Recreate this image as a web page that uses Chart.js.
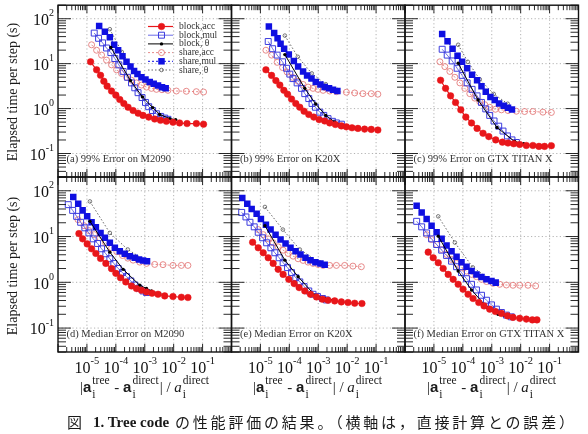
<!DOCTYPE html>
<html>
<head>
<meta charset="utf-8">
<script src="https://cdn.jsdelivr.net/npm/chart.js@4.4.1/dist/chart.umd.min.js"></script>
<style>
  body { margin: 0; background: #fff; }
  #page { position: relative; width: 588px; height: 434px; overflow: hidden; font-family: "Liberation Serif", serif; color: #1a1a1a; }
  #page canvas { position: absolute; left: 0; top: 0; }
  .ytitle { position: absolute; width: 180px; height: 18px; line-height: 18px; text-align: center; font-size: 14px; transform: rotate(-90deg); white-space: nowrap; }
  .xtitle { position: absolute; top: 378px; white-space: nowrap; font-size: 15px; line-height: 18px; transform: translateX(-50%); }
  .xtitle b { font-family: "Liberation Sans", sans-serif; font-weight: bold; }
  .ss { display: inline-flex; flex-direction: column; vertical-align: middle; font-size: 11.5px; line-height: 11px; margin: 0 1px; }
  .ss .up { position: relative; top: -3px; }
  .cap { position: absolute; top: 413px; font-size: 15px; line-height: 18px; white-space: nowrap; }
  .jp { font-family: "Noto Sans CJK JP", sans-serif; letter-spacing: 2.8px; }
</style>
</head>
<body>
<div id="page">
  <canvas id="pa" width="588" height="434"></canvas>
  <canvas id="pb" width="588" height="434"></canvas>
  <canvas id="pc" width="588" height="434"></canvas>
  <canvas id="pd" width="588" height="434"></canvas>
  <canvas id="pe" width="588" height="434"></canvas>
  <canvas id="pf" width="588" height="434"></canvas>

  <div class="ytitle" style="left:-77px; top:83px">Elapsed time per step (s)</div>
  <div class="ytitle" style="left:-77px; top:257px">Elapsed time per step (s)</div>

  <div class="xtitle" style="left:145px">|<b>a</b><span class="ss"><span class="up">tree</span><span>i</span></span> - <b>a</b><span class="ss"><span class="up">direct</span><span>i</span></span>| / <i>a</i><span class="ss"><span class="up">direct</span><span>i</span></span></div>
  <div class="xtitle" style="left:318px">|<b>a</b><span class="ss"><span class="up">tree</span><span>i</span></span> - <b>a</b><span class="ss"><span class="up">direct</span><span>i</span></span>| / <i>a</i><span class="ss"><span class="up">direct</span><span>i</span></span></div>
  <div class="xtitle" style="left:492px">|<b>a</b><span class="ss"><span class="up">tree</span><span>i</span></span> - <b>a</b><span class="ss"><span class="up">direct</span><span>i</span></span>| / <i>a</i><span class="ss"><span class="up">direct</span><span>i</span></span></div>

  <div class="cap" style="left:67px"><span class="jp">図</span></div>
  <div class="cap" style="left:93px"><b>1. Tree code</b></div>
  <div class="cap" style="left:175px"><span class="jp">の性能評価の結果。（横軸は，直接計算との誤差）</span></div>
</div>

<script>
const W = 588, H = 434;

const seriesNames = ["block,acc", "block,mul", "block, \u03b8", "share,acc", "share,mul", "share, \u03b8"];
const panelLabels = [
  "(a) 99% Error on M2090", "(b) 99% Error on K20X", "(c) 99% Error on GTX TITAN X",
  "(d) Median Error on M2090", "(e) Median Error on K20X", "(f) Median Error on GTX TITAN X"
];
const xGrid = [1e-5, 1e-4, 1e-3, 1e-2, 1e-1];
const xExp = ["-5", "-4", "-3", "-2", "-1"];
const yGrid = [100, 10, 1, 0.1];
const yExp = ["2", "1", "0", "-1"];

// [error, seconds] pairs
// (a) 99% error, M2090
const aBlkAcc = [[1.34e-5,11.0],[2.16e-5,7.3],[2.96e-5,5.5],[3.85e-5,4.06],[5.0e-5,3.16],[7.1e-5,2.46],[1.0e-4,1.99],[1.37e-4,1.59],[1.89e-4,1.30],[2.65e-4,1.07],[3.95e-4,0.905],[5.9e-4,0.79],[8.7e-4,0.705],[1.37e-3,0.647],[2.2e-3,0.585],[3.5e-3,0.548],[5.6e-3,0.521],[9.5e-3,0.496],[1.6e-2,0.479],[2.9e-2,0.464],[6.1e-2,0.464],[0.108,0.449]];
const aBlkMul = [[1.79e-5,47.9],[2.53e-5,36.7],[3.48e-5,29.0],[4.77e-5,22.3],[6.73e-5,17.6],[9.25e-5,13.0],[1.27e-4,9.4],[1.79e-4,6.7],[2.53e-4,4.97],[3.48e-4,3.73],[4.52e-4,2.90],[5.87e-4,2.26],[8.07e-4,1.76],[1.06e-3,1.37],[1.37e-3,1.10],[1.85e-3,0.905],[2.53e-3,0.767],[3.56e-3,0.67],[4.9e-3,0.615],[6.35e-3,0.577]];
const aBlkTh = [[6.73e-5,22.9],[3.21e-4,4.2],[8.34e-4,1.82],[1.89e-3,1.05],[3.29e-3,0.741],[7.28e-3,0.597],[1.17e-2,0.568]];
const aShAcc = [[1.45e-5,26.3],[2.16e-5,19.9],[3.21e-5,15.5],[4.77e-5,12.0],[7.11e-5,9.4],[1.06e-4,7.3],[1.57e-4,6.07],[2.34e-4,4.97],[3.48e-4,4.27],[5.18e-4,3.73],[7.69e-4,3.33],[1.15e-3,3.01],[1.70e-3,2.82],[2.53e-3,2.68],[3.95e-3,2.63],[6.35e-3,2.55],[1.24e-2,2.46],[2.74e-2,2.43],[6.07e-2,2.38],[0.108,2.34]];
const aShMul = [[2.65e-5,69.3],[4.18e-5,51.4],[6.21e-5,38.6],[8.73e-5,26.3],[1.2e-4,19.9],[1.70e-4,14.7],[2.34e-4,11.0],[3.21e-4,8.6],[4.28e-4,6.9],[5.6e-4,5.85],[7.69e-4,4.96],[1.06e-3,4.42],[1.49e-3,3.92],[2.04e-3,3.55],[2.88e-3,3.27],[3.95e-3,3.0],[5.3e-3,2.82]];
const aShTh = [[6.2e-5,58.5],[1.61e-4,18.2],[4.18e-4,6.7],[1.27e-3,3.67],[4.5e-3,2.72]];

// (b) 99% error, K20X
const bBlkAcc = [[1.55e-5,7.3],[2.43e-5,5.48],[3.42e-5,4.2],[4.7e-5,3.33],[6.46e-5,2.55],[8.67e-5,2.09],[1.19e-4,1.63],[1.67e-4,1.30],[2.3e-4,1.07],[3.24e-4,0.873],[4.7e-4,0.741],[7.0e-4,0.647],[1.07e-3,0.568],[1.67e-3,0.530],[2.49e-3,0.479],[3.92e-3,0.443],[6.3e-3,0.412],[9.4e-3,0.392],[1.47e-2,0.373],[2.36e-2,0.362],[4.0e-2,0.349],[6.8e-2,0.344],[0.115,0.333]];
const bBlkMul = [[1.86e-5,31.1],[2.64e-5,21.5],[3.79e-5,15.5],[5.83e-5,11.0],[8.0e-5,7.9],[1.04e-4,5.85],[1.35e-4,4.65],[1.86e-4,3.73],[2.64e-4,2.82],[3.42e-4,2.15],[4.7e-4,1.67],[6.1e-4,1.30],[8.0e-4,1.07],[1.13e-3,0.83],[1.55e-3,0.705],[2.18e-3,0.597],[3.09e-3,0.521],[4.25e-3,0.479],[6.3e-3,0.449]];
const bBlkTh = [[7.0e-5,15.9],[3.42e-4,2.82],[8.2e-4,1.26],[1.82e-3,0.705],[3.7e-3,0.504],[6.3e-3,0.427],[1.29e-2,0.38]];
const bShAcc = [[1.55e-5,19.9],[2.43e-5,15.5],[3.79e-5,10.7],[5.83e-5,8.2],[8.4e-5,6.5],[1.29e-4,4.97],[2.01e-4,4.06],[2.99e-4,3.44],[4.45e-4,3.01],[6.6e-4,2.82],[9.8e-4,2.68],[1.47e-3,2.55],[2.49e-3,2.46],[4.25e-3,2.38],[9.4e-3,2.31],[1.82e-2,2.23],[3.5e-2,2.15],[6.8e-2,2.15],[0.115,2.09]];
const bShMul = [[1.96e-5,67],[2.99e-5,47.9],[3.92e-5,36.7],[4.98e-5,27.6],[6.6e-5,21.5],[9.6e-5,15.9],[1.43e-4,11.5],[2.01e-4,8.6],[2.99e-4,6.7],[4.11e-4,5.48],[5.83e-4,4.65],[8.2e-4,3.92],[1.19e-3,3.44],[1.67e-3,3.01],[2.36e-3,2.82],[3.24e-3,2.63],[4.59e-3,2.46]];
const bShTh = [[7.0e-5,42.1],[1.96e-4,14.2],[5.97e-4,6.07],[1.82e-3,3.49],[4.7e-3,2.59]];

// (c) 99% error, GTX TITAN X
const cBlkAcc = [[1.70e-5,4.27],[2.53e-5,2.82],[3.77e-5,1.92],[5.6e-5,1.37],[8.5e-5,0.937],[1.27e-4,0.647],[2.0e-4,0.479],[3.11e-4,0.362],[5.0e-4,0.282],[7.9e-4,0.238],[1.37e-3,0.201],[2.34e-3,0.179],[3.65e-3,0.171],[5.74e-3,0.165],[9.25e-3,0.159],[1.57e-2,0.151],[2.65e-2,0.151],[4.28e-2,0.144],[6.7e-2,0.144],[0.115,0.149]];
const cBlkMul = [[1.93e-5,20.9],[2.88e-5,15.5],[4.28e-5,11.5],[6.35e-5,7.9],[9.46e-5,5.48],[1.41e-4,3.73],[2.09e-4,2.68],[3.11e-4,1.92],[4.42e-4,1.37],[6.2e-4,0.984],[8.5e-4,0.705],[1.2e-3,0.530],[1.74e-3,0.406],[2.45e-3,0.316],[3.48e-3,0.246],[5.0e-3,0.201],[7.1e-3,0.176]];
const cBlkTh = [[6.9e-5,10.2],[3.37e-4,1.55],[1.52e-3,0.38],[6.2e-3,0.185],[1.27e-2,0.165]];
const cShAcc = [[1.61e-5,11.0],[2.39e-5,8.6],[3.56e-5,6.7],[5.3e-5,4.97],[7.9e-5,3.73],[1.17e-4,2.82],[1.74e-4,2.15],[2.59e-4,1.71],[3.85e-4,1.42],[5.74e-4,1.22],[8.5e-4,1.07],[1.34e-3,0.966],[2.16e-3,0.937],[3.65e-3,0.905],[7.1e-3,0.873],[1.37e-2,0.861],[2.65e-2,0.861],[5.87e-2,0.832],[0.115,0.819]];
const cShMul = [[1.93e-5,45.6],[2.96e-5,31.6],[4.42e-5,21.5],[6.56e-5,14.9],[9.46e-5,11.0],[1.41e-4,7.9],[2.09e-4,5.68],[3.11e-4,4.27],[4.42e-4,3.16],[6.2e-4,2.38],[9.0e-4,1.82],[1.27e-3,1.55],[1.79e-3,1.30],[2.59e-3,1.16],[3.65e-3,1.04],[5.0e-3,0.95]];
const cShTh = [[6.9e-5,26.3],[1.49e-4,11.0],[3.85e-4,4.49],[1.17e-3,2.12],[3.56e-3,1.28]];

// (d) median error, M2090
const dBlkAcc = [[5.3e-6,11.6],[7.1e-6,8.9],[1.02e-5,6.9],[1.45e-5,5.4],[2.04e-5,4.27],[2.96e-5,3.33],[4.52e-5,2.59],[7.1e-5,1.99],[1.0e-4,1.57],[1.45e-4,1.26],[2.21e-4,1.02],[3.48e-4,0.832],[5.18e-4,0.73],[7.69e-4,0.67],[1.15e-3,0.615],[1.79e-3,0.577],[2.88e-3,0.548],[4.9e-3,0.504],[9.46e-3,0.489],[1.85e-2,0.472],[3.11e-2,0.465]];
const dBlkMul = [[2.26e-6,49.7],[3.21e-6,37.3],[4.42e-6,27.6],[6.07e-6,20.5],[8.5e-6,15.5],[1.17e-5,12.0],[1.65e-5,8.9],[2.34e-5,7.05],[3.21e-5,5.4],[4.52e-5,4.2],[6.21e-5,3.27],[8.5e-5,2.59],[1.2e-4,2.01],[1.7e-4,1.63],[2.34e-4,1.33],[3.29e-4,1.07],[4.52e-4,0.873],[6.35e-4,0.741],[8.73e-4,0.647],[1.15e-3,0.597]];
const dBlkTh = [[1.27e-5,21.5],[6.21e-5,4.56],[1.79e-4,1.92],[6.73e-4,0.861],[1.15e-3,0.73],[1.70e-3,0.647],[3.29e-3,0.568]];
const dShAcc = [[4.9e-6,23.4],[7.9e-6,17.3],[1.17e-5,13.5],[1.79e-5,11.0],[2.81e-5,9.4],[4.42e-5,7.3],[7.1e-5,5.68],[1.08e-4,4.65],[1.7e-4,3.86],[2.59e-4,3.37],[3.95e-4,3.05],[6.73e-4,2.76],[1.15e-3,2.59],[2.21e-3,2.46],[4.28e-3,2.43],[9.46e-3,2.34],[1.85e-2,2.34],[3.11e-2,2.34]];
const dShMul = [[3.37e-6,72.9],[5.0e-6,52.1],[7.1e-6,37.3],[1.02e-5,27.6],[1.45e-5,20.5],[2.04e-5,15.9],[2.96e-5,12.0],[4.18e-5,9.4],[6.21e-5,7.3],[9.25e-5,5.68],[1.37e-4,4.79],[2.04e-4,4.2],[3.04e-4,3.73],[4.52e-4,3.44],[6.35e-4,3.16],[8.73e-4,3.01],[1.2e-3,2.9]];
const dShTh = [[1.27e-5,58.5],[6.21e-5,12.0],[2.59e-4,5.21],[1.15e-3,2.9]];

// (e) median error, K20X
const eBlkAcc = [[5.38e-6,7.5],[8.4e-6,5.68],[1.25e-5,4.42],[1.86e-5,3.44],[2.76e-5,2.59],[4.11e-5,1.92],[6.1e-5,1.49],[9.6e-5,1.16],[1.47e-4,0.937],[2.18e-4,0.767],[3.42e-4,0.647],[5.38e-4,0.548],[8.67e-4,0.479],[1.40e-3,0.427],[2.18e-3,0.406],[3.7e-3,0.392],[6.3e-3,0.373],[1.07e-2,0.362],[1.82e-2,0.349],[3.24e-2,0.344]];
const eBlkMul = [[2.25e-6,33.7],[3.16e-6,26.8],[4.35e-6,20.5],[6.1e-6,16.3],[8.4e-6,12.4],[1.19e-5,9.4],[1.64e-5,7.3],[2.3e-5,5.68],[3.16e-5,4.42],[4.45e-5,3.44],[6.1e-5,2.68],[8.67e-5,2.09],[1.19e-4,1.63],[1.67e-4,1.26],[2.3e-4,1.02],[3.24e-4,0.807],[4.7e-4,0.647],[6.6e-4,0.548],[9.4e-4,0.489],[1.40e-3,0.443],[1.92e-3,0.412]];
const eBlkTh = [[1.43e-5,17.3],[7.0e-5,3.05],[2.01e-4,1.33],[7.57e-4,0.521],[1.67e-3,0.443],[3.42e-3,0.412]];
const eShAcc = [[8.4e-6,14.2],[1.25e-5,11.0],[1.86e-5,8.9],[2.76e-5,7.3],[4.11e-5,5.97],[6.1e-5,5.04],[9.1e-5,4.27],[1.35e-4,3.73],[2.01e-4,3.27],[2.99e-4,3.01],[4.45e-4,2.76],[6.6e-4,2.59],[9.8e-4,2.46],[1.47e-3,2.34],[2.49e-3,2.34],[4.25e-3,2.34],[8.2e-3,2.34],[1.58e-2,2.26],[3.09e-2,2.19]];
const eShMul = [[2.36e-6,69.3],[3.51e-6,52.1],[4.98e-6,40.0],[7.4e-6,31.6],[1.04e-5,24.3],[1.55e-5,18.2],[2.25e-5,14.2],[3.34e-5,11.0],[4.98e-5,8.6],[7.4e-5,7.05],[1.10e-4,5.68],[1.64e-4,4.79],[2.43e-4,4.06],[3.62e-4,3.44],[5.38e-4,3.05],[8.0e-4,2.76],[1.19e-3,2.59],[1.67e-3,2.43]];
const eShTh = [[1.43e-5,44.3],[5.97e-5,14.2],[2.3e-4,5.21],[1.13e-3,2.72]];

// (f) median error, GTX TITAN X
const fBlkAcc = [[6.35e-6,4.56],[9.46e-6,3.44],[1.41e-5,2.68],[2.09e-5,2.01],[3.11e-5,1.49],[4.63e-5,1.16],[6.9e-5,0.905],[1.02e-4,0.705],[1.52e-4,0.548],[2.26e-4,0.443],[3.56e-4,0.362],[5.42e-4,0.305],[8.5e-4,0.259],[1.34e-3,0.231],[2.16e-3,0.209],[3.48e-3,0.185],[5.42e-3,0.171],[9.25e-3,0.163],[1.57e-2,0.157],[2.53e-2,0.151],[3.65e-2,0.151]];
const fBlkMul = [[2.53e-6,21.5],[3.77e-6,16.3],[5.6e-6,12.0],[8.3e-6,8.9],[1.24e-5,6.7],[1.85e-5,5.04],[2.74e-5,3.86],[4.07e-5,2.9],[6.07e-5,2.19],[9.0e-5,1.63],[1.34e-4,1.20],[2.0e-4,0.905],[2.96e-4,0.681],[4.42e-4,0.521],[6.56e-4,0.406],[9.8e-4,0.321],[1.45e-3,0.259],[2.16e-3,0.219],[3.21e-3,0.192],[4.77e-3,0.176]];
const fBlkTh = [[1.41e-5,10.2],[6.9e-5,1.76],[2.0e-4,0.681],[6.9e-4,0.282],[1.65e-3,0.201],[3.65e-3,0.171]];
const fShAcc = [[5.6e-6,11.0],[8.3e-6,8.6],[1.24e-5,6.7],[1.85e-5,5.21],[2.74e-5,4.06],[4.07e-5,3.16],[6.07e-5,2.59],[9.0e-5,2.09],[1.34e-4,1.76],[2.0e-4,1.49],[2.96e-4,1.33],[4.42e-4,1.16],[6.56e-4,1.04],[1.11e-3,0.95],[1.89e-3,0.905],[3.21e-3,0.873],[5.42e-3,0.861],[9.25e-3,0.861],[1.79e-2,0.861],[3.29e-2,0.832]];
const fShMul = [[2.53e-6,47.2],[3.77e-6,33.7],[5.6e-6,24.3],[8.3e-6,17.3],[1.24e-5,12.4],[1.85e-5,8.9],[2.74e-5,6.37],[4.07e-5,4.79],[6.07e-5,3.62],[9.0e-5,2.76],[1.34e-4,2.19],[2.0e-4,1.76],[2.96e-4,1.49],[4.42e-4,1.30],[6.56e-4,1.16],[9.8e-4,1.07],[1.37e-3,0.984]];
const fShTh = [[1.41e-5,27.6],[5.3e-5,7.4],[2.21e-4,2.12],[1.0e-3,1.10]];

// one style per series, same order as seriesNames (order: lower = drawn on top)
const styles = [
  { line: "rgb(232,22,26)", lw: 1.2, dash: [], shape: "circle", r: 3.3, bw: 0.5, stroke: "rgb(232,22,26)", fill: "rgb(232,22,26)", order: 1 },
  { line: "rgb(90,90,228)", lw: 0.9, dash: [], shape: "rect", r: 4.2, bw: 1, stroke: "rgb(60,60,222)", fill: "rgba(255,255,255,0)", order: 4 },
  { line: "#000", lw: 1, dash: [], shape: "circle", r: 1.7, bw: 0, stroke: "#000", fill: "#000", order: 2 },
  { line: "rgb(228,125,125)", lw: 0.9, dash: [2, 2], shape: "circle", r: 3, bw: 0.9, stroke: "rgb(228,125,125)", fill: "rgba(255,255,255,0)", order: 5 },
  { line: "rgb(15,15,225)", lw: 1, dash: [2, 2], shape: "rect", r: 4.6, bw: 0, stroke: "rgb(15,15,225)", fill: "rgb(15,15,225)", order: 3 },
  { line: "#555", lw: 0.9, dash: [1.5, 2], shape: "circle", r: 1.8, bw: 0.8, stroke: "#555", fill: "rgba(255,255,255,0)", order: 6 }
];

function buildSets(sets) {
  return sets.map((pts, i) => {
    const s = styles[i];
    return {
      label: seriesNames[i],
      data: pts.map(p => ({ x: p[0], y: p[1] })),
      showLine: true,
      borderColor: s.line,
      borderWidth: s.lw,
      borderDash: s.dash,
      pointStyle: s.shape,
      pointRadius: s.r,
      pointBorderWidth: s.bw,
      pointBorderColor: s.stroke,
      pointBackgroundColor: s.fill,
      order: s.order,
      fill: false,
      tension: 0
    };
  });
}

// grid, inward ticks, frame, tick labels, panel label and legend
const framePlugin = {
  id: "frame",
  beforeDatasetsDraw(chart) {
    const { ctx, chartArea: a, scales: { x, y } } = chart;
    ctx.save();
    ctx.strokeStyle = "#a0a0a0";
    ctx.lineWidth = 0.8;
    ctx.setLineDash([1.2, 2.4]);
    ctx.beginPath();
    xGrid.forEach(v => { const p = x.getPixelForValue(v); ctx.moveTo(p, a.top); ctx.lineTo(p, a.bottom); });
    yGrid.forEach(v => { const p = y.getPixelForValue(v); ctx.moveTo(a.left, p); ctx.lineTo(a.right, p); });
    ctx.stroke();
    ctx.restore();
  },
  afterDatasetsDraw(chart, args, o) {
    const { ctx, chartArea: a, scales: { x, y } } = chart;
    ctx.save();
    ctx.strokeStyle = "#111";
    ctx.lineWidth = 0.9;
    ctx.beginPath();
    for (let e = -6; e <= 0; e++) {
      for (let k = 1; k <= 9; k++) {
        const v = k * Math.pow(10, e);
        if (v > 1.0001) break;
        const p = x.getPixelForValue(v);
        const len = k === 1 ? 8 : 5;
        ctx.moveTo(p, a.top); ctx.lineTo(p, a.top + len);
        ctx.moveTo(p, a.bottom); ctx.lineTo(p, a.bottom - len);
      }
    }
    for (let e = -2; e <= 2; e++) {
      for (let k = 1; k <= 9; k++) {
        const v = k * Math.pow(10, e);
        if (v < 0.0299 || v > 200.01) continue;
        const p = y.getPixelForValue(v);
        const len = k === 1 ? 13 : 8;
        ctx.moveTo(a.left, p); ctx.lineTo(a.left + len, p);
        ctx.moveTo(a.right, p); ctx.lineTo(a.right - len, p);
      }
    }
    ctx.stroke();
    ctx.lineWidth = 1.4;
    ctx.strokeRect(a.left, a.top, a.width, a.height);

    ctx.fillStyle = "#111";
    ctx.textBaseline = "middle";
    if (o.yLab) {
      ctx.textAlign = "right";
      yGrid.forEach((v, i) => {
        const p = y.getPixelForValue(v);
        ctx.font = '10px "Liberation Serif"';
        const ew = ctx.measureText(yExp[i]).width;
        ctx.fillText(yExp[i], a.left - 4, p - 5);
        ctx.font = '16px "Liberation Serif"';
        ctx.fillText("10", a.left - 4 - ew, p + 2);
      });
    }
    if (o.xLab) {
      ctx.textAlign = "left";
      xGrid.forEach((v, i) => {
        const p = x.getPixelForValue(v);
        ctx.font = '16px "Liberation Serif"';
        const bw = ctx.measureText("10").width;
        ctx.font = '10.5px "Liberation Serif"';
        const ew = ctx.measureText(xExp[i]).width;
        const left = p - (bw + ew) / 2;
        ctx.fillText(xExp[i], left + bw, a.bottom + 9);
        ctx.font = '16px "Liberation Serif"';
        ctx.fillText("10", left, a.bottom + 17);
      });
    }

    ctx.textAlign = "left";
    ctx.fillStyle = "#333";
    ctx.font = '10.5px "Liberation Serif"';
    ctx.fillText(o.label, a.left + 8.5, a.bottom - 18);

    if (o.legend) {
      chart.data.datasets.forEach((ds, i) => {
        const yy = a.top + 21.3 + i * 8.7;
        ctx.save();
        ctx.strokeStyle = ds.borderColor;
        ctx.lineWidth = ds.borderWidth;
        ctx.setLineDash(ds.borderDash);
        ctx.beginPath();
        ctx.moveTo(a.left + 90, yy);
        ctx.lineTo(a.left + 115, yy);
        ctx.stroke();
        ctx.setLineDash([]);
        ctx.fillStyle = ds.pointBackgroundColor;
        ctx.strokeStyle = ds.pointBorderColor;
        ctx.lineWidth = ds.pointBorderWidth;
        Chart.helpers.drawPoint(ctx, { pointStyle: ds.pointStyle, radius: ds.pointRadius, borderWidth: ds.pointBorderWidth, rotation: 0 }, a.left + 103.5, yy);
        ctx.restore();
        ctx.fillStyle = "#333";
        ctx.font = '9.5px "Liberation Serif"';
        ctx.fillText(ds.label, a.left + 121, yy);
      });
    }
    ctx.restore();
  }
};

const panels = [
  { id: "pa", x: 58, y: 3, w: 173.5, h: 174, sets: [aBlkAcc, aBlkMul, aBlkTh, aShAcc, aShMul, aShTh], label: panelLabels[0], yLab: true, xLab: false, legend: true },
  { id: "pb", x: 231.5, y: 3, w: 173.5, h: 174, sets: [bBlkAcc, bBlkMul, bBlkTh, bShAcc, bShMul, bShTh], label: panelLabels[1], yLab: false, xLab: false, legend: false },
  { id: "pc", x: 405, y: 3, w: 173.5, h: 174, sets: [cBlkAcc, cBlkMul, cBlkTh, cShAcc, cShMul, cShTh], label: panelLabels[2], yLab: false, xLab: false, legend: false },
  { id: "pd", x: 58, y: 177, w: 173.5, h: 175, sets: [dBlkAcc, dBlkMul, dBlkTh, dShAcc, dShMul, dShTh], label: panelLabels[3], yLab: true, xLab: true, legend: false },
  { id: "pe", x: 231.5, y: 177, w: 173.5, h: 175, sets: [eBlkAcc, eBlkMul, eBlkTh, eShAcc, eShMul, eShTh], label: panelLabels[4], yLab: false, xLab: true, legend: false },
  { id: "pf", x: 405, y: 177, w: 173.5, h: 175, sets: [fBlkAcc, fBlkMul, fBlkTh, fShAcc, fShMul, fShTh], label: panelLabels[5], yLab: false, xLab: true, legend: false }
];

panels.forEach(pn => {
  new Chart(document.getElementById(pn.id), {
    type: "scatter",
    data: { datasets: buildSets(pn.sets) },
    options: {
      responsive: false,
      animation: false,
      devicePixelRatio: 1,
      events: [],
      layout: { padding: { left: pn.x, top: pn.y, right: W - pn.x - pn.w, bottom: H - pn.y - pn.h } },
      scales: {
        x: { type: "logarithmic", min: 1e-6, max: 1, display: false },
        y: { type: "logarithmic", min: 0.03, max: 200, display: false }
      },
      plugins: {
        legend: { display: false },
        tooltip: { enabled: false },
        frame: { label: pn.label, yLab: pn.yLab, xLab: pn.xLab, legend: pn.legend }
      }
    },
    plugins: [framePlugin]
  });
});
</script>
</body>
</html>
